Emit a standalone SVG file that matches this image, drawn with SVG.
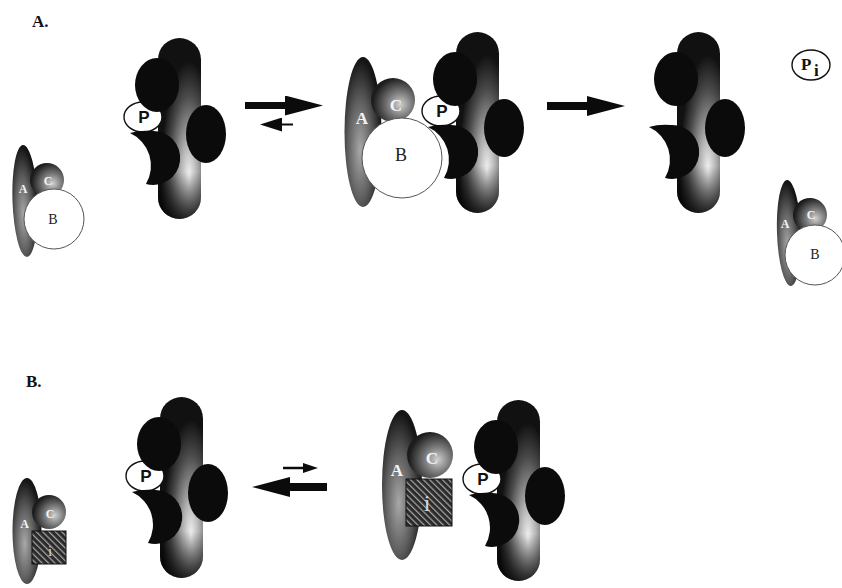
<svg xmlns="http://www.w3.org/2000/svg" xmlns:xlink="http://www.w3.org/1999/xlink" width="842" height="588" viewBox="0 0 842 588">
  <style>
    .panel { font-family: "Liberation Serif", "DejaVu Serif", serif; font-weight: bold; font-size: 17px; fill: #111; }
    .dark { fill: #0b0b0b; }
    .pcap { fill: #fff; stroke: #111; stroke-width: 1.4; }
    .plabel { font-family: "Liberation Sans", Arial, sans-serif; font-weight: bold; font-size: 17px; fill: #111; text-anchor: middle; }
    .subA { fill: url(#g-sub-a); }
    .subC { fill: url(#g-sub-c); }
    .subB { fill: #fff; stroke: #555; stroke-width: 1; }
    .inh { fill: url(#hatch); stroke: #111; stroke-width: 1; }
    .wl { font-family: "Liberation Serif", "DejaVu Serif", serif; font-weight: bold; fill: #f4f4f4; text-anchor: middle; }
    .bl { font-family: "Liberation Serif", "DejaVu Serif", serif; fill: #222; text-anchor: middle; }
    .il { font-family: "Liberation Serif", "DejaVu Serif", serif; fill: #d8d8d8; text-anchor: middle; }
    .shaft { stroke: #0b0b0b; fill: none; }
  </style>
  <defs>
    <!-- shaded rod -->
    <radialGradient id="g-pillar" gradientUnits="userSpaceOnUse" cx="0" cy="0" r="1" gradientTransform="translate(31 138) scale(28 115)">
      <stop offset="0" stop-color="#f2f2f2"/>
      <stop offset="0.3" stop-color="#b0b0b0"/>
      <stop offset="0.7" stop-color="#4a4a4a"/>
      <stop offset="1" stop-color="#111"/>
    </radialGradient>
    <linearGradient id="g-pillar-foot" x1="0" y1="0" x2="0" y2="1">
      <stop offset="0.74" stop-color="#000" stop-opacity="0"/>
      <stop offset="1" stop-color="#000" stop-opacity="0.8"/>
    </linearGradient>
    <!-- regulatory subunits -->
    <radialGradient id="g-sub-a" cx="0.42" cy="0.62" r="0.6">
      <stop offset="0" stop-color="#a8a8a8"/>
      <stop offset="0.55" stop-color="#5e5e5e"/>
      <stop offset="1" stop-color="#151515"/>
    </radialGradient>
    <radialGradient id="g-sub-c" cx="0.66" cy="0.6" r="0.62">
      <stop offset="0" stop-color="#d0d0d0"/>
      <stop offset="0.45" stop-color="#7a7a7a"/>
      <stop offset="1" stop-color="#1c1c1c"/>
    </radialGradient>
    <pattern id="hatch" width="4.5" height="4.5" patternUnits="userSpaceOnUse" patternTransform="rotate(-45)">
      <rect width="4.5" height="4.5" fill="#2b2b2b"/>
      <line x1="0" y1="0" x2="0" y2="4.5" stroke="#a8a8a8" stroke-width="2.4"/>
    </pattern>
    <marker id="head-lg" markerUnits="userSpaceOnUse" markerWidth="38" markerHeight="20" viewBox="0 0 38 20" refX="0" refY="10" orient="auto">
      <path d="M0,0 L38,10 L0,20 Z" fill="#0b0b0b"/>
    </marker>
    <marker id="head-md" markerUnits="userSpaceOnUse" markerWidth="22" markerHeight="14" viewBox="0 0 22 14" refX="0" refY="7" orient="auto">
      <path d="M0,0 L22,7 L0,14 Z" fill="#0b0b0b"/>
    </marker>
    <marker id="head-sm" markerUnits="userSpaceOnUse" markerWidth="15" markerHeight="10" viewBox="0 0 15 10" refX="0" refY="5" orient="auto">
      <path d="M0,0 L15,5 L0,10 Z" fill="#0b0b0b"/>
    </marker>
    <!-- motor unit pieces, local origin = rod top-left -->
    <g id="rod">
      <rect width="43" height="181" rx="21.5" fill="url(#g-pillar)"/>
      <rect width="43" height="181" rx="21.5" fill="url(#g-pillar-foot)"/>
    </g>
    <g id="heads" class="dark">
      <ellipse cx="-1" cy="47" rx="22" ry="27"/>
      <ellipse cx="48" cy="96" rx="20" ry="29"/>
      <path d="M-28,95 Q-18,92 -6,93 A27,27 0 1 1 -12,146 A36,36 0 0 0 -28,95 Z"/>
    </g>
    <g id="pcap">
      <ellipse class="pcap" cx="-15" cy="79" rx="19" ry="15"/>
      <text class="plabel" x="-14" y="85">P</text>
    </g>
  </defs>

  <rect width="842" height="588" fill="#fff"/>

  <text class="panel" x="32" y="27">A.</text>
  <text class="panel" x="26" y="387">B.</text>

  <!-- panel A -->
  <g id="cplx-a-free">
    <ellipse class="subA" cx="25" cy="201" rx="12.5" ry="56" transform="rotate(-2 25 201)"/>
    <circle class="subC" cx="47" cy="180" r="17"/>
    <circle class="subB" cx="54" cy="219" r="30"/>
    <text class="wl" x="23" y="193" font-size="12">A</text>
    <text class="wl" x="48" y="185" font-size="12">C</text>
    <text class="bl" x="53" y="224" font-size="14">B</text>
  </g>

  <g id="motor-a1">
    <use xlink:href="#rod" x="158" y="38"/>
    <use xlink:href="#pcap" x="158" y="38"/>
    <use xlink:href="#heads" x="158" y="38"/>
  </g>

  <g id="motor-a2">
    <use xlink:href="#rod" x="456" y="32"/>
    <use xlink:href="#pcap" x="456" y="32"/>
    <use xlink:href="#heads" x="456" y="32"/>
  </g>

  <g id="cplx-a-bound">
    <ellipse class="subA" cx="363" cy="132" rx="18.5" ry="75"/>
    <circle class="subC" cx="393" cy="100" r="22"/>
    <circle class="subB" cx="402" cy="158" r="40"/>
    <text class="wl" x="362" y="124" font-size="17">A</text>
    <text class="wl" x="396" y="111" font-size="17">C</text>
    <text class="bl" x="401" y="161" font-size="18">B</text>
  </g>

  <g id="motor-a3">
    <use xlink:href="#rod" x="677" y="32"/>
    <use xlink:href="#heads" x="677" y="32"/>
  </g>

  <g id="phosphate">
    <ellipse class="pcap" cx="811" cy="65" rx="19" ry="15"/>
    <text class="panel" x="801" y="70" font-size="19">P</text>
    <text class="panel" x="814" y="76" font-size="13">i</text>
  </g>

  <g id="cplx-a-released">
    <ellipse class="subA" cx="789" cy="233" rx="12" ry="53" transform="rotate(-2 789 233)"/>
    <circle class="subC" cx="810" cy="215" r="17"/>
    <circle class="subB" cx="815" cy="255" r="30"/>
    <text class="wl" x="785" y="228" font-size="12">A</text>
    <text class="wl" x="811" y="219" font-size="12">C</text>
    <text class="bl" x="815" y="259" font-size="14">B</text>
  </g>

  <!-- panel B -->
  <g id="cplx-b-free">
    <ellipse class="subA" cx="27" cy="531" rx="14.5" ry="53"/>
    <circle class="subC" cx="49" cy="512" r="17"/>
    <rect class="inh" x="32" y="531" width="34" height="33"/>
    <text class="wl" x="24.5" y="528" font-size="12">A</text>
    <text class="wl" x="50" y="518" font-size="12">C</text>
    <text class="il" x="50" y="556" font-size="15">i</text>
  </g>

  <g id="motor-b1">
    <use xlink:href="#rod" x="160" y="397"/>
    <use xlink:href="#pcap" x="160" y="397"/>
    <use xlink:href="#heads" x="160" y="397"/>
  </g>

  <g id="cplx-b-bound">
    <ellipse class="subA" cx="402" cy="485" rx="20" ry="75"/>
    <circle class="subC" cx="430" cy="455" r="23"/>
    <rect class="inh" x="406" y="479" width="46" height="47"/>
    <text class="wl" x="397" y="476" font-size="17">A</text>
    <text class="wl" x="432" y="464" font-size="17">C</text>
    <text class="il" x="427" y="511" font-size="24">i</text>
  </g>

  <g id="motor-b2">
    <use xlink:href="#rod" x="497" y="400"/>
    <use xlink:href="#pcap" x="497" y="400"/>
    <use xlink:href="#heads" x="497" y="400"/>
  </g>

  <!-- reaction arrows -->
  <g id="connectors">
    <line class="shaft" x1="245" y1="105.5" x2="285" y2="105.5" stroke-width="7" marker-end="url(#head-lg)"/>
    <line class="shaft" x1="293" y1="124.5" x2="282" y2="124.5" stroke-width="2" marker-end="url(#head-md)"/>
    <line class="shaft" x1="547" y1="106" x2="587" y2="106" stroke-width="8" marker-end="url(#head-lg)"/>
    <line class="shaft" x1="283" y1="468" x2="303" y2="468" stroke-width="2.5" marker-end="url(#head-sm)"/>
    <line class="shaft" x1="327" y1="487" x2="290" y2="487" stroke-width="8" marker-end="url(#head-lg)"/>
  </g>
</svg>
